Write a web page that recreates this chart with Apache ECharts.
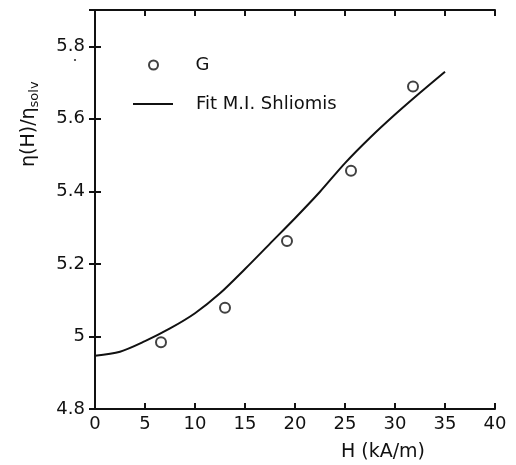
<!DOCTYPE html>
<html>
<head>
<meta charset="utf-8">
<script src="https://cdn.jsdelivr.net/npm/echarts@6/dist/echarts.min.js"></script>
<style>
  html, body { margin: 0; padding: 0; background: #fff; }
  #chart { width: 516px; height: 465px; }
</style>
</head>
<body>
<div id="chart"></div>
<script>
// Measured viscosity ratio vs. field strength
var fieldG = [6.6, 13.0, 19.2, 25.6, 31.8];
var etaG = [4.984, 5.079, 5.263, 5.457, 5.689];

// Shliomis model fit
var fieldFit = [0, 2.5, 5, 7.5, 10, 12.5, 15, 17.5, 20, 22.5, 25, 27.5, 30, 32.5, 35];
var etaFit = [4.947, 4.958, 4.987, 5.022, 5.064, 5.119, 5.186, 5.256, 5.326, 5.399, 5.478, 5.548, 5.612, 5.672, 5.730];

var xTicks = [0, 5, 10, 15, 20, 25, 30, 35, 40];
var yTicks = [4.8, 5.0, 5.2, 5.4, 5.6, 5.8];

var FONT = 'DejaVu Sans';
var INK = '#111';

function pairs(xs, ys) {
  return xs.map(function (x, i) { return [x, ys[i]]; });
}

var axisLine = { show: true, lineStyle: { color: INK, width: 2 } };
var axisTick = { show: true, inside: true, length: 6, lineStyle: { color: INK, width: 2 } };

var chart = echarts.init(document.getElementById('chart'));
chart.setOption({
  animation: false,
  backgroundColor: '#fff',
  grid: { left: 95, right: 21, top: 10, bottom: 56 },
  xAxis: [{
    type: 'value', min: 0, max: 40, interval: 5, position: 'bottom',
    axisLine: axisLine, axisTick: axisTick, splitLine: { show: false },
    axisLabel: { color: INK, fontSize: 18, fontFamily: FONT, margin: 6,
      formatter: function (v) { return xTicks.indexOf(v) >= 0 ? String(v) : ''; } }
  }, {
    type: 'value', min: 0, max: 40, interval: 5, position: 'top',
    axisLine: axisLine, axisTick: axisTick, axisLabel: { show: false }, splitLine: { show: false }
  }],
  yAxis: [{
    type: 'value', min: 4.8, max: 5.9, interval: 0.2, position: 'left',
    axisLine: axisLine, axisTick: axisTick, splitLine: { show: false },
    axisLabel: { color: INK, fontSize: 18, fontFamily: FONT, margin: 10, showMaxLabel: false,
      formatter: function (v) {
        var r = Math.round(v * 10) / 10;
        return yTicks.some(function (t) { return Math.abs(t - r) < 1e-6; }) ? String(r) : '';
      } }
  }, {
    type: 'value', min: 4.8, max: 5.9, interval: 0.2, position: 'right',
    axisLine: axisLine, axisTick: axisTick, axisLabel: { show: false }, splitLine: { show: false }
  }],
  legend: [{
    left: 143, top: 49,
    itemWidth: 40, itemHeight: 9,
    textStyle: { color: INK, fontSize: 18, fontFamily: FONT, lineHeight: 20, padding: [2, 0, 0, 17] },
    data: [{ name: 'G', icon: 'emptyCircle', itemStyle: { color: INK, borderColor: INK, borderWidth: 1.6 } }]
  }, {
    left: 128, top: 89,
    itemWidth: 40, itemHeight: 2,
    textStyle: { color: INK, fontSize: 18, fontFamily: FONT, lineHeight: 20, padding: [0, 0, 0, 18] },
    data: [{ name: 'Fit M.I. Shliomis', icon: 'rect', itemStyle: { color: INK } }]
  }],
  series: [{
    name: 'G', type: 'scatter', xAxisIndex: 0, yAxisIndex: 0,
    data: pairs(fieldG, etaG),
    symbol: 'emptyCircle', symbolSize: 10,
    itemStyle: { color: INK, borderColor: INK, borderWidth: 1.7 },
    z: 3
  }, {
    name: 'Fit M.I. Shliomis', type: 'line', xAxisIndex: 0, yAxisIndex: 0,
    data: pairs(fieldFit, etaFit),
    smooth: 0.3, symbol: 'none', showSymbol: false,
    lineStyle: { color: INK, width: 2 },
    itemStyle: { color: INK }
  }],
  graphic: [{
    // rotated y-axis title with subscript
    type: 'text', x: 29, y: 167,
    rotation: Math.PI / 2,
    style: {
      text: '{a|η(H)/η}{s|solv}',
      align: 'left', verticalAlign: 'middle',
      rich: {
        a: { fontSize: 19, fontFamily: FONT, fill: INK },
        s: { fontSize: 13, fontFamily: FONT, fill: INK, padding: [12, 0, 0, 0] }
      }
    }
  }, {
    type: 'text', x: 383, y: 452,
    style: {
      text: 'H (kA/m)', align: 'center', verticalAlign: 'middle',
      fontSize: 19, fontFamily: FONT, fill: INK
    }
  }, {
    type: 'circle', shape: { cx: 75, cy: 60, r: 1.1 }, style: { fill: '#333' }
  }]
});
</script>
</body>
</html>
